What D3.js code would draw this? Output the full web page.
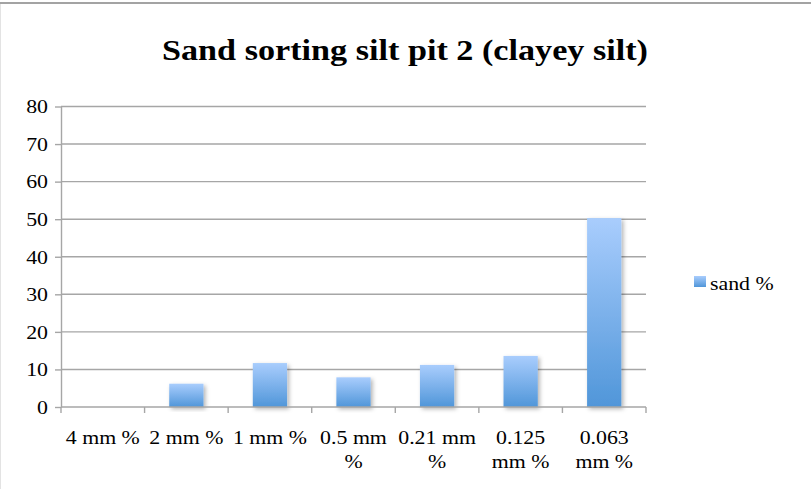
<!DOCTYPE html>
<html>
<head>
<meta charset="utf-8">
<script src="https://cdn.jsdelivr.net/npm/d3@7"></script>
<style>
  html, body { margin: 0; padding: 0; background: #fff; }
  svg { display: block; }
  text { font-family: "Liberation Serif", "Times New Roman", serif; fill: #000; }
</style>
</head>
<body>
<svg id="chart" width="811" height="489"></svg>
<script>
// Sand fraction per sieve size
const categories = ["4 mm %", "2 mm %", "1 mm %", "0.5 mm %", "0.21 mm %", "0.125 mm %", "0.063 mm %"];
const sandValues = [0, 6.2, 11.7, 7.9, 11.2, 13.6, 50.3];
const yTicks = [0, 10, 20, 30, 40, 50, 60, 70, 80];
const seriesName = "sand %";
const chartTitle = "Sand sorting silt pit 2 (clayey silt)";

const W = 811, H = 489;
const plot = { left: 61, right: 646, top: 106.5, bottom: 407 };
const labelSize = 19.5;
const widen = 1.12; // horizontal stretch for the serif labels

// stretch a text/tspan horizontally by a factor, keeping its anchor
function stretch(node, k) {
  const len = node.getComputedTextLength();
  d3.select(node).attr("textLength", len * k).attr("lengthAdjust", "spacingAndGlyphs");
}

const svg = d3.select("#chart");

// gradient for bars and legend swatch
const defs = svg.append("defs");
const grad = defs.append("linearGradient")
  .attr("id", "barGrad").attr("x1", 0).attr("y1", 0).attr("x2", 0).attr("y2", 1);
grad.append("stop").attr("offset", "0%").attr("stop-color", "#a9cdfd");
grad.append("stop").attr("offset", "100%").attr("stop-color", "#5096d9");

const shadow = defs.append("filter").attr("id", "barShadow")
  .attr("x", "-30%").attr("y", "-10%").attr("width", "160%").attr("height", "130%");
shadow.append("feDropShadow").attr("dx", 2).attr("dy", 2).attr("stdDeviation", 2)
  .attr("flood-color", "#000").attr("flood-opacity", 0.3);

// frame
svg.append("rect").attr("x", 0).attr("y", 0).attr("width", W).attr("height", H).attr("fill", "#fff");
svg.append("line").attr("x1", 0).attr("x2", W).attr("y1", 3).attr("y2", 3)
  .attr("stroke", "#a3a3a3").attr("stroke-width", 2);
svg.append("line").attr("x1", 0.5).attr("x2", 0.5).attr("y1", 4).attr("y2", H)
  .attr("stroke", "#e3e3e3").attr("stroke-width", 1);

// title
svg.append("text")
  .attr("x", 405).attr("y", 60)
  .attr("text-anchor", "middle")
  .attr("font-size", 30).attr("font-weight", "bold")
  .attr("textLength", 486).attr("lengthAdjust", "spacingAndGlyphs")
  .text(chartTitle);

const x = d3.scaleBand().domain(categories).range([plot.left, plot.right])
  .paddingInner(0.59).paddingOuter(0.295);
const y = d3.scaleLinear().domain([0, 80]).range([plot.bottom, plot.top]);

// horizontal gridlines
svg.append("g").selectAll("line").data(yTicks.filter(d => d > 0)).join("line")
  .attr("x1", plot.left).attr("x2", plot.right)
  .attr("y1", d => y(d)).attr("y2", d => y(d))
  .attr("stroke", "#a6a6a6").attr("stroke-width", 1.4);

// y axis
const yAxis = svg.append("g").attr("transform", `translate(${plot.left},0)`)
  .call(d3.axisLeft(y).tickValues(yTicks).tickSize(6).tickPadding(7).tickSizeOuter(0));
yAxis.select(".domain").attr("stroke", "#a6a6a6").attr("stroke-width", 1.4);
yAxis.selectAll(".tick line").attr("stroke", "#a6a6a6").attr("stroke-width", 1.4);
yAxis.selectAll(".tick text").attr("font-size", labelSize)
  .attr("font-family", "Liberation Serif, serif").attr("fill", "#000")
  .each(function () { stretch(this, widen); });

// bars
svg.append("g").selectAll("rect").data(sandValues).join("rect")
  .attr("x", (d, i) => x(categories[i]))
  .attr("width", x.bandwidth())
  .attr("y", d => y(d))
  .attr("height", d => y(0) - y(d))
  .attr("fill", "url(#barGrad)")
  .attr("filter", "url(#barShadow)");

// x axis with ticks at category boundaries
const xg = svg.append("g");
xg.append("line").attr("x1", plot.left).attr("x2", plot.right)
  .attr("y1", plot.bottom).attr("y2", plot.bottom)
  .attr("stroke", "#a6a6a6").attr("stroke-width", 1.4);
const boundaries = d3.range(categories.length + 1).map(i => plot.left + i * (plot.right - plot.left) / categories.length);
xg.selectAll("line.tk").data(boundaries).join("line").attr("class", "tk")
  .attr("x1", d => d).attr("x2", d => d)
  .attr("y1", plot.bottom).attr("y2", plot.bottom + 6)
  .attr("stroke", "#a6a6a6").attr("stroke-width", 1.4);

// category labels, wrapped to fit their slot
const maxLabel = 72;
const labels = xg.selectAll("text.cat").data(categories).join("text").attr("class", "cat")
  .attr("text-anchor", "middle").attr("font-size", labelSize);
labels.each(function (d) {
  const t = d3.select(this);
  const cx = x(d) + x.bandwidth() / 2;
  const words = d.split(" ");
  const lines = [];
  let cur = [];
  const probe = t.append("tspan");
  words.forEach(w => {
    const trial = cur.concat([w]).join(" ");
    probe.text(trial);
    if (cur.length && probe.node().getComputedTextLength() > maxLabel) {
      lines.push(cur.join(" "));
      cur = [w];
    } else {
      cur.push(w);
    }
  });
  lines.push(cur.join(" "));
  probe.remove();
  lines.forEach((ln, i) => {
    const ts = t.append("tspan").attr("x", cx).attr("y", 444 + i * 24).text(ln);
    stretch(ts.node(), widen);
  });
});

// legend
const lg = svg.append("g");
lg.append("rect").attr("x", 694).attr("y", 276).attr("width", 12).attr("height", 11)
  .attr("fill", "url(#barGrad)");
lg.append("text").attr("x", 710).attr("y", 290).attr("font-size", labelSize).text(seriesName)
  .each(function () { stretch(this, widen); });
</script>
</body>
</html>
